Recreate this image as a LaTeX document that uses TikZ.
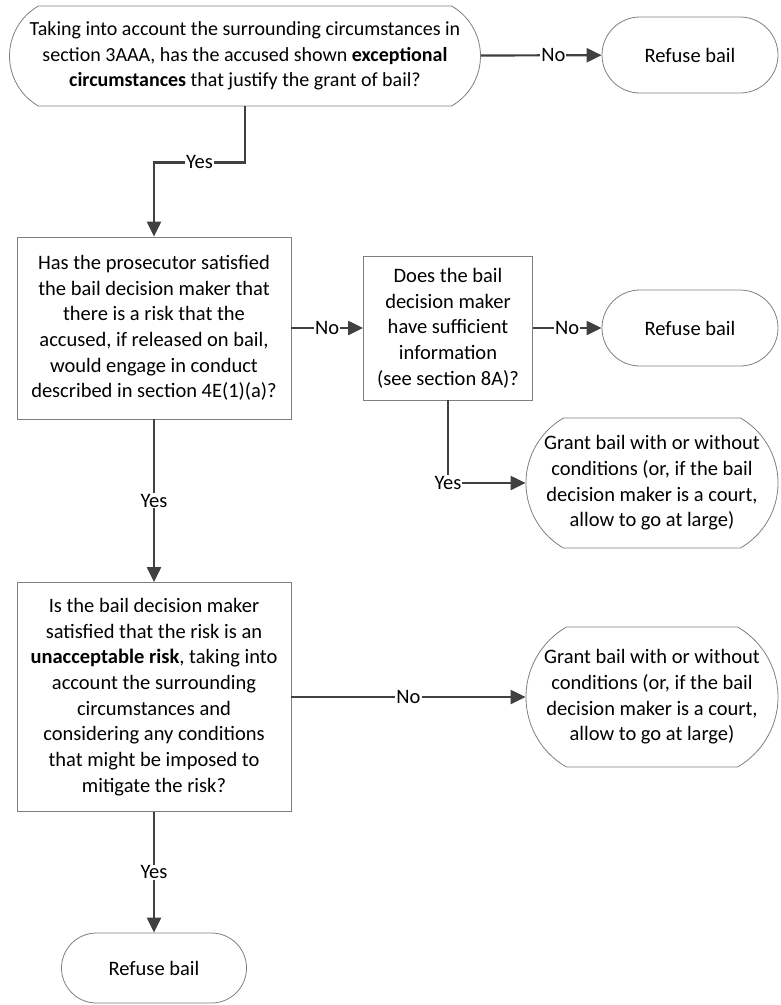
\documentclass[tikz,border=0pt]{standalone}
\usepackage{fontspec}
\setmainfont{Carlito}
\usetikzlibrary{shapes.misc,arrows.meta}
\definecolor{linegray}{HTML}{404040}
\definecolor{edgegray}{HTML}{7F7F7F}
\tikzset{
  base/.style={draw=edgegray, line width=0.8pt, align=center, inner sep=2pt,
    font=\fontsize{20.5}{25.7}\selectfont},
  question/.style={base, rectangle},
  outcome/.style={base, rounded rectangle},
  grant/.style={base, rounded rectangle, rounded rectangle arc length=120},
  flow/.style={draw=linegray, line width=2.2pt, -{Triangle[length=15pt,width=14pt]}},
  lbl/.style={fill=white, inner sep=1pt, font=\fontsize{20.5}{24}\selectfont}
}
\begin{document}
\begin{tikzpicture}[x=1pt,y=1pt]
    \useasboundingbox (0,0) rectangle (780,-1005);
    % the first question and its refusal
    \node[outcome, rounded rectangle arc length=120, minimum width=475pt, minimum height=100pt,
        font=\fontsize{20}{25.7}\selectfont] (start) at (245,-56)
        {Taking into account the surrounding circumstances in\\
         section 3AAA, has the accused shown \textbf{exceptional}\\
         \textbf{circumstances} that justify the grant of bail?};
    \node[outcome, minimum width=180pt, minimum height=76pt] (refuse-a) at (690,-55) {Refuse bail};
    % the prosecutor question
    \node[question, minimum width=274pt, minimum height=182pt] (risk) at (154,-328)
        {Has the prosecutor satisfied\\ the bail decision maker that\\ there is a risk that the\\
         accused, if released on bail,\\ would engage in conduct\\ described in section 4E(1)(a)?};
    % the information question
    \node[question, minimum width=169pt, minimum height=144pt] (info) at (448,-328)
        {Does the bail\\ decision maker\\ have sufficient\\ information\\ (see section 8A)?};
    \node[outcome, minimum width=180pt, minimum height=76pt] (refuse-b) at (690,-328) {Refuse bail};
    \node[grant, minimum width=256pt, minimum height=130pt] (grant-a) at (652,-483)
        {Grant bail with or without\\ conditions (or, if the bail\\ decision maker is a court,\\ allow to go at large)};
    % the unacceptable risk question
    \node[question, minimum width=274pt, minimum height=229pt] (unaccept) at (154,-697)
        {Is the bail decision maker\\ satisfied that the risk is an\\ \textbf{unacceptable risk}, taking into\\
         account the surrounding\\ circumstances and\\ considering any conditions\\
         that might be imposed to\\ mitigate the risk?};
    \node[grant, minimum width=256pt, minimum height=140pt] (grant-b) at (652,-697)
        {Grant bail with or without\\ conditions (or, if the bail\\ decision maker is a court,\\ allow to go at large)};
    \node[outcome, minimum width=189pt, minimum height=70pt] (refuse-c) at (154,-968) {Refuse bail};

    % connectors
    \draw[flow] (start) -- node[lbl, pos=0.6] {No} (refuse-a);
    \draw[flow] (start.south) -- ++(0,-56) -| node[lbl, pos=0.25] {Yes} (risk.north);
    \draw[flow] (risk) -- node[lbl] {No} (info);
    \draw[flow] (info) -- node[lbl] {No} (refuse-b);
    \draw[flow] (info.south) |- node[lbl] {Yes} (grant-a.west);
    \draw[flow] (risk) -- node[lbl] {Yes} (unaccept);
    \draw[flow] (unaccept) -- node[lbl] {No} (grant-b);
    \draw[flow] (unaccept) -- node[lbl] {Yes} (refuse-c);
\end{tikzpicture}
\end{document}
